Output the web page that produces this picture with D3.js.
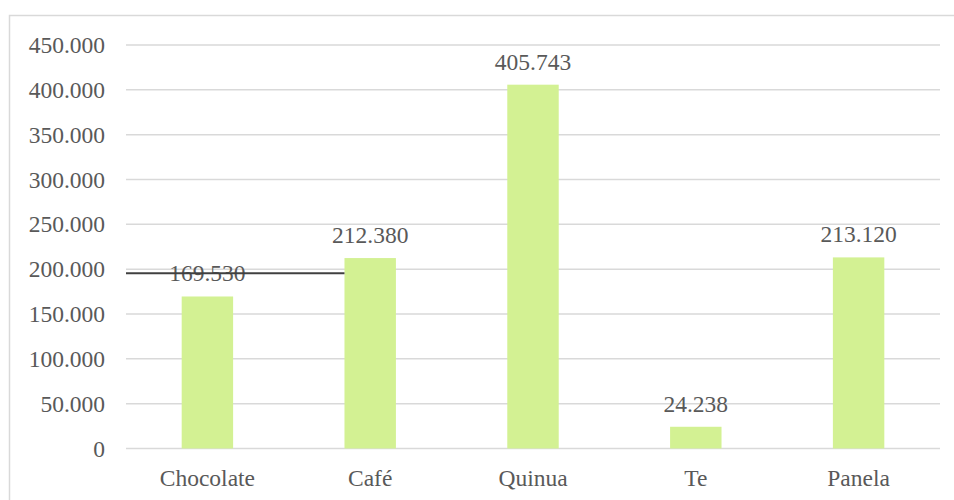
<!DOCTYPE html>
<html>
<head>
<meta charset="utf-8">
<script src="https://cdn.jsdelivr.net/npm/d3@7"></script>
<style>
  html, body { margin: 0; padding: 0; background: #fff; }
  svg { display: block; }
</style>
</head>
<body>
<svg id="chart" width="954" height="500"></svg>
<script>
// Production by product
const categories = ["Chocolate", "Café", "Quinua", "Te", "Panela"];
const values = [169530, 212380, 405743, 24238, 213120];
const tickValues = [0, 50000, 100000, 150000, 200000, 250000, 300000, 350000, 400000, 450000];
// Horizontal rule drawn across the first two columns
const ruleLevel = 195500;

const W = 954, H = 500;
const margin = { left: 126, right: 14, top: 45, bottom: 51.5 };
const FONT = "'Liberation Serif', 'Times New Roman', serif";
const FONT_SIZE = "23.5px";

const svg = d3.select("#chart");
const es = d3.formatLocale({ decimal: ",", thousands: ".", grouping: [3], currency: ["$", ""] });
const fmt = es.format(",.0f");

// outer frame
svg.append("path")
  .attr("d", `M9.5,${H} V15.5 H${W}`)
  .attr("fill", "none")
  .attr("stroke", "#d9d9d9")
  .attr("stroke-width", 1.5);

const x = d3.scaleBand()
  .domain(categories)
  .range([margin.left, W - margin.right])
  .padding(0);

const y = d3.scaleLinear()
  .domain([0, 450000])
  .range([H - margin.bottom, margin.top]);

const barW = x.bandwidth() * 0.316;

// gridlines
svg.append("g")
  .selectAll("line")
  .data(tickValues)
  .join("line")
  .attr("x1", margin.left)
  .attr("x2", W - margin.right)
  .attr("y1", d => y(d))
  .attr("y2", d => y(d))
  .attr("stroke", "#d9d9d9")
  .attr("stroke-width", 1.5);

function styleText(sel) {
  sel.style("font-family", FONT)
    .style("font-size", FONT_SIZE)
    .style("fill", "#595959");
}

// y axis labels
const yAxis = d3.axisLeft(y).tickValues(tickValues).tickFormat(d => d === 0 ? "0" : fmt(d)).tickSize(0).tickPadding(21);
const gy = svg.append("g").attr("transform", `translate(${margin.left},0)`).call(yAxis);
gy.select(".domain").remove();
gy.selectAll("text").call(styleText);

// x axis labels
const xAxis = d3.axisBottom(x).tickSize(0).tickPadding(21);
const gx = svg.append("g").attr("transform", `translate(0,${y(0)})`).call(xAxis);
gx.select(".domain").remove();
gx.selectAll("text").call(styleText);

// bars
svg.append("g")
  .selectAll("rect")
  .data(values)
  .join("rect")
  .attr("x", (d, i) => x(categories[i]) + (x.bandwidth() - barW) / 2)
  .attr("width", barW)
  .attr("y", d => y(d))
  .attr("height", d => y(0) - y(d))
  .attr("fill", "#d3f193");

// value labels
svg.append("g")
  .selectAll("text")
  .data(values)
  .join("text")
  .attr("x", (d, i) => x(categories[i]) + x.bandwidth() / 2)
  .attr("y", d => y(d) - 15)
  .attr("text-anchor", "middle")
  .call(styleText)
  .text(d => fmt(d));

// rule line
svg.append("line")
  .attr("x1", margin.left)
  .attr("x2", x(categories[1]) + (x.bandwidth() - barW) / 2)
  .attr("y1", y(ruleLevel))
  .attr("y2", y(ruleLevel))
  .attr("stroke", "#404040")
  .attr("stroke-width", 2);
</script>
</body>
</html>
